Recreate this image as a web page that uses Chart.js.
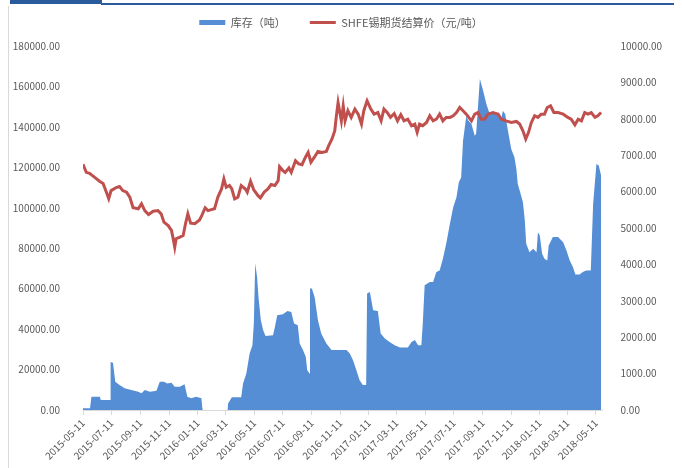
<!DOCTYPE html>
<html>
<head>
<meta charset="utf-8">
<script src="https://cdn.jsdelivr.net/npm/chart.js@4.4.1/dist/chart.umd.min.js"></script>
<style>
    html, body { margin: 0; padding: 0; background: #fff; }
    #wrap { position: relative; width: 682px; height: 468px; overflow: hidden; }
    #topTab { position: absolute; left: 10px; top: 0; width: 92px; height: 4px; background: #2b5b9c; }
    #topLine { position: absolute; left: 101px; top: 3px; width: 573px; height: 2px; background: #2b5b9c; }
    #leftLine { position: absolute; left: 8px; top: 6px; width: 1px; height: 462px; background: #d9d9d9; }
    #chart { position: absolute; left: 0; top: 0; }
</style>
</head>
<body>
<div id="wrap">
    <canvas id="chart" width="682" height="468"></canvas>
    <div id="topTab"></div>
    <div id="topLine"></div>
    <div id="leftLine"></div>
</div>
<script>
const startDate = '2015-05-11';

const tickDates = [
    '2015-05-11', '2015-07-11', '2015-09-11', '2015-11-11', '2016-01-11', '2016-03-11', '2016-05-11',
    '2016-07-11', '2016-09-11', '2016-11-11', '2017-01-11', '2017-03-11', '2017-05-11', '2017-07-11',
    '2017-09-11', '2017-11-11', '2018-01-11', '2018-03-11', '2018-05-11'
];

// SHFE tin settlement price (yuan/t) - left axis
const priceDates = [
    '2015-05-11', '2015-05-18', '2015-05-25', '2015-06-05', '2015-06-16', '2015-06-23', '2015-06-30', '2015-07-05',
    '2015-07-10', '2015-07-21', '2015-07-28', '2015-08-04', '2015-08-12', '2015-08-19', '2015-08-26', '2015-09-06',
    '2015-09-13', '2015-09-20', '2015-09-28', '2015-10-08', '2015-10-18', '2015-10-25', '2015-10-31', '2015-11-09',
    '2015-11-16', '2015-11-19', '2015-11-23', '2015-11-26', '2015-12-04', '2015-12-11', '2015-12-16', '2015-12-21',
    '2015-12-27', '2016-01-05', '2016-01-15', '2016-01-20', '2016-01-27', '2016-02-02', '2016-02-09', '2016-02-16',
    '2016-02-23', '2016-03-02', '2016-03-07', '2016-03-12', '2016-03-19', '2016-03-24', '2016-03-30', '2016-04-06',
    '2016-04-13', '2016-04-22', '2016-04-26', '2016-05-03', '2016-05-10', '2016-05-19', '2016-05-24', '2016-06-01',
    '2016-06-09', '2016-06-16', '2016-06-24', '2016-07-01', '2016-07-04', '2016-07-11', '2016-07-16', '2016-07-24',
    '2016-07-29', '2016-08-07', '2016-08-14', '2016-08-21', '2016-08-28', '2016-09-03', '2016-09-09', '2016-09-16',
    '2016-09-24', '2016-10-03', '2016-10-12', '2016-10-17', '2016-10-24', '2016-10-30', '2016-11-02', '2016-11-06',
    '2016-11-13', '2016-11-17', '2016-11-21', '2016-11-27', '2016-12-04', '2016-12-12', '2016-12-19', '2016-12-26',
    '2016-12-31', '2017-01-07', '2017-01-15', '2017-01-22', '2017-01-30', '2017-02-06', '2017-02-12', '2017-02-19',
    '2017-02-26', '2017-03-06', '2017-03-13', '2017-03-20', '2017-03-27', '2017-04-04', '2017-04-12', '2017-04-19',
    '2017-04-24', '2017-04-29', '2017-05-06', '2017-05-14', '2017-05-21', '2017-05-28', '2017-06-04', '2017-06-11',
    '2017-06-18', '2017-06-25', '2017-07-03', '2017-07-10', '2017-07-17', '2017-07-24', '2017-07-31', '2017-08-07',
    '2017-08-18', '2017-08-25', '2017-09-01', '2017-09-08', '2017-09-15', '2017-09-22', '2017-10-03', '2017-10-14',
    '2017-10-21', '2017-10-31', '2017-11-11', '2017-11-22', '2017-11-29', '2017-12-06', '2017-12-12', '2017-12-18',
    '2017-12-24', '2017-12-31', '2018-01-07', '2018-01-14', '2018-01-21', '2018-01-27', '2018-02-03', '2018-02-10',
    '2018-02-19', '2018-03-02', '2018-03-12', '2018-03-19', '2018-03-27', '2018-04-03', '2018-04-10', '2018-04-17',
    '2018-04-24', '2018-05-01', '2018-05-09', '2018-05-15', '2018-05-22'
];
const priceValues = [
    121500, 117500, 117000, 115000, 113000, 112000, 107700, 104500,
    108500, 110000, 110500, 108500, 107700, 105200, 100000, 99500,
    102000, 98600, 96700, 98300, 98600, 97000, 92900, 91200,
    88800, 85500, 80500, 84700, 85500, 86300, 92100, 97000,
    92400, 92100, 94000, 96200, 100000, 98600, 99100, 99500,
    105200, 109300, 114300, 110100, 111000, 109300, 104400, 105200,
    111000, 109300, 107700, 113100, 108800, 106000, 104900, 107700,
    109300, 111500, 111000, 113400, 120300, 118400, 117500, 119700,
    117500, 123300, 121700, 121300, 124900, 127400, 122500, 124900,
    127900, 127400, 127900, 130700, 134000, 138100, 144700, 152000,
    143000, 150400, 143000, 148000, 144700, 148800, 146300, 141400,
    148000, 152900, 148800, 146300, 147100, 143000, 148800, 147100,
    144700, 146600, 143000, 146000, 143000, 143800, 140600, 141400,
    137300, 141400, 140600, 142200, 145500, 143000, 143800, 146300,
    143000, 144700, 144700, 145500, 147100, 149600, 148000, 146300,
    143000, 146300, 147100, 143800, 143800, 146300, 147100, 146300,
    143800, 143000, 142200, 142700, 141400, 138100, 134000, 137300,
    142200, 145500, 144700, 146300, 146300, 149600, 150400, 147100,
    147100, 146300, 144700, 143800, 141000, 143800, 143000, 147100,
    146300, 147100, 144700, 145500, 147100
];

// tin inventory (t) - right axis
const stockDates = [
    '2015-05-11', '2015-05-26', '2015-05-29', '2015-06-16', '2015-06-18', '2015-07-08', '2015-07-09', '2015-07-14',
    '2015-07-19', '2015-07-28', '2015-08-08', '2015-08-22', '2015-09-06', '2015-09-13', '2015-09-20', '2015-10-01',
    '2015-10-15', '2015-10-22', '2015-10-31', '2015-11-07', '2015-11-16', '2015-11-23', '2015-12-04', '2015-12-14',
    '2015-12-20', '2015-12-28', '2016-01-08', '2016-01-19', '2016-01-21', '2016-01-22', '2016-03-15', '2016-03-16',
    '2016-03-24', '2016-04-13', '2016-04-17', '2016-04-24', '2016-05-01', '2016-05-07', '2016-05-10', '2016-05-13',
    '2016-05-17', '2016-05-20', '2016-05-25', '2016-05-30', '2016-06-04', '2016-06-20', '2016-06-24', '2016-06-29',
    '2016-07-11', '2016-07-21', '2016-07-29', '2016-08-04', '2016-08-12', '2016-08-16', '2016-08-23', '2016-08-29',
    '2016-09-01', '2016-09-06', '2016-09-07', '2016-09-11', '2016-09-17', '2016-09-24', '2016-10-01', '2016-10-12',
    '2016-10-23', '2016-11-24', '2016-12-01', '2016-12-08', '2016-12-15', '2016-12-22', '2016-12-29', '2017-01-05',
    '2017-01-06', '2017-01-07', '2017-01-13', '2017-01-20', '2017-01-30', '2017-02-05', '2017-02-14', '2017-02-24',
    '2017-03-07', '2017-03-18', '2017-04-04', '2017-04-12', '2017-04-19', '2017-04-26', '2017-05-03', '2017-05-06',
    '2017-05-10', '2017-05-21', '2017-05-28', '2017-06-04', '2017-06-11', '2017-06-18', '2017-06-25', '2017-07-03',
    '2017-07-10', '2017-07-17', '2017-07-22', '2017-07-27', '2017-07-31', '2017-08-07', '2017-08-11', '2017-08-18',
    '2017-08-25', '2017-08-28', '2017-09-05', '2017-09-12', '2017-09-19', '2017-09-26', '2017-10-07', '2017-10-15',
    '2017-10-21', '2017-10-24', '2017-10-29', '2017-11-04', '2017-11-11', '2017-11-18', '2017-11-22', '2017-11-25',
    '2017-12-01', '2017-12-06', '2017-12-10', '2017-12-13', '2017-12-20', '2017-12-28', '2018-01-04', '2018-01-07',
    '2018-01-11', '2018-01-16', '2018-01-21', '2018-01-27', '2018-01-30', '2018-02-08', '2018-02-19', '2018-03-02',
    '2018-03-09', '2018-03-16', '2018-03-23', '2018-03-28', '2018-04-06', '2018-04-13', '2018-04-20', '2018-04-30',
    '2018-05-05', '2018-05-12', '2018-05-17', '2018-05-22'
];
const stockValues = [
    50, 50, 365, 365, 275, 275, 1320, 1300,
    775, 685, 595, 550, 500, 460, 550, 500,
    530, 775, 775, 730, 750, 640, 640, 710,
    365, 320, 365, 320, 50, 0, 0, 180,
    350, 350, 730, 1005, 1550, 1780, 2375, 4035,
    3650, 3100, 2465, 2190, 2030, 2055, 2280, 2600,
    2630, 2720, 2690, 2375, 2330, 1830, 1645, 1460,
    1100, 1005, 3340, 3340, 3100, 2465, 2100, 1830,
    1645, 1645, 1550, 1370, 1100, 820, 685, 685,
    685, 3200, 3240, 2740, 2720, 2100, 1965, 1870,
    1780, 1720, 1720, 1870, 1920, 1780, 1780, 2375,
    3425, 3515, 3515, 3790, 3835, 4155, 4565, 5115,
    5570, 5845, 6255, 6390, 7400, 8080, 7950, 7855,
    7535, 7590, 9090, 8770, 8400, 8130, 8130, 8175,
    8000, 8220, 8130, 7670, 7170, 6940, 6620, 6210,
    5940, 5710, 5205, 4565, 4335, 4430, 4335, 4885,
    4795, 4290, 4155, 4110, 4520, 4750, 4750, 4610,
    4385, 4110, 3925, 3725, 3725, 3790, 3835, 3835,
    5665, 6760, 6715, 6440
];

const textColor = '#595959';
const cjkFont = "'Noto Sans CJK SC', 'Noto Sans', sans-serif";

const dayOf = d => (Date.parse(d) - Date.parse(startDate)) / 864e5;
const toPoints = (dates, values) => dates.map((d, i) => ({ x: dayOf(d), y: values[i] }));

// leaves a bit more room under the legend than Chart.js would
const legendGap = {
    id: 'legendGap',
    beforeInit(chart) {
        const fit = chart.legend.fit;
        chart.legend.fit = function () {
            fit.call(this);
            this.height += 8;
        };
    }
};

new Chart(document.getElementById('chart'), {
    type: 'line',
    data: {
        datasets: [{
            label: '库存（吨）',
            data: toPoints(stockDates, stockValues),
            yAxisID: 'y1',
            fill: 'origin',
            backgroundColor: '#558ed5',
            borderWidth: 0,
            borderColor: '#558ed5',
            pointRadius: 0,
            pointStyle: 'rect',
            pointBackgroundColor: '#558ed5',
            pointBorderWidth: 0,
            tension: 0,
            order: 2
        }, {
            label: 'SHFE锡期货结算价（元/吨）',
            data: toPoints(priceDates, priceValues),
            yAxisID: 'y',
            fill: false,
            borderColor: '#c0504d',
            borderWidth: 3,
            pointRadius: 0,
            pointStyle: 'line',
            pointBorderColor: '#c0504d',
            pointBorderWidth: 3,
            tension: 0,
            order: 1
        }]
    },
    plugins: [legendGap],
    options: {
        responsive: false,
        animation: false,
        layout: { padding: { top: -7, left: 0, right: 0, bottom: 0 } },
        plugins: {
            tooltip: { enabled: false },
            legend: {
                position: 'top',
                labels: {
                    usePointStyle: true,
                    pointStyleWidth: 26,
                    boxHeight: 5,
                    padding: 24,
                    color: textColor,
                    font: { size: 11, family: cjkFont },
                    sort: (a, b) => a.datasetIndex - b.datasetIndex
                }
            }
        },
        scales: {
            x: {
                type: 'linear',
                min: 0,
                max: 1110,
                afterBuildTicks: s => { s.ticks = tickDates.map(d => ({ value: dayOf(d) })); },
                afterFit: s => { s.height = 58; },
                ticks: {
                    autoSkip: false,
                    minRotation: 45,
                    maxRotation: 45,
                    padding: 2,
                    color: textColor,
                    font: { size: 10, family: cjkFont },
                    callback: (v, i) => tickDates[i]
                },
                grid: { display: true, drawOnChartArea: false, drawTicks: true, tickLength: 5, color: '#d9d9d9' },
                border: { display: true, color: '#d9d9d9' }
            },
            y: {
                position: 'left',
                min: 0,
                max: 180000,
                afterFit: s => { s.width = 83; },
                ticks: {
                    stepSize: 20000,
                    padding: 15,
                    color: textColor,
                    font: { size: 10, family: cjkFont },
                    callback: v => v.toFixed(2)
                },
                grid: { display: false },
                border: { display: false }
            },
            y1: {
                position: 'right',
                min: 0,
                max: 10000,
                afterFit: s => { s.width = 79.5; },
                ticks: {
                    stepSize: 1000,
                    padding: 10,
                    color: textColor,
                    font: { size: 10, family: cjkFont },
                    callback: v => v.toFixed(2)
                },
                grid: { display: false },
                border: { display: false }
            }
        }
    }
});
</script>
</body>
</html>
